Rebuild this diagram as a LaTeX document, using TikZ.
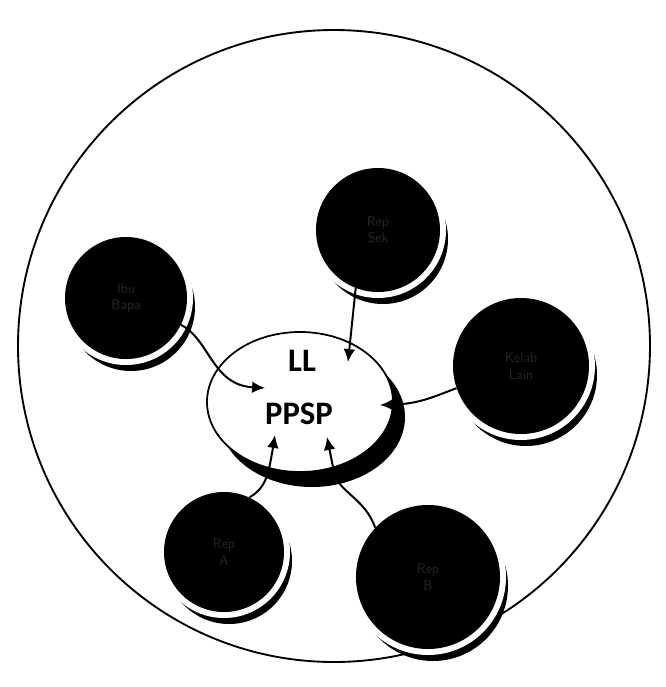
\documentclass[tikz,border=0pt]{standalone}
\usepackage{fontspec}
\newfontfamily\calfont{Carlito}
\usetikzlibrary{calc, arrows.meta, shapes.geometric}

\tikzset{
  blob/.style={circle, fill=black, inner sep=0pt, minimum size=#1,
    font=\sffamily\large, text=black!85, align=center},
  link/.style={line width=1.7pt, -{Latex[length=11pt, width=10pt]}},
  word/.style={font=\calfont\bfseries\fontsize{28}{30}\selectfont, inner sep=0pt},
}

\begin{document}
\begin{tikzpicture}[x=0.03cm, y=-0.03cm]
  \useasboundingbox (0,0) rectangle (666,687);
  % outer ring
  \draw[line width=1.6pt] (334,346) circle (316);

  % shadows of the dark circles
  \foreach \cx/\cy/\r in {126/298/61, 378/230/62, 521/366/68, 224/552/60, 428/577/72} {
      \fill[black] (\cx+5,\cy+9) circle (\r+3);
      \fill[white] (\cx,\cy) circle (\r+6);
  }

  % dark circles
  \node[blob=3.66cm] (lf) at (126,298) {Ibu\\Bapa};
  \node[blob=3.72cm] (tp) at (378,230) {Rep\\Sek};
  \node[blob=4.08cm] (rt) at (521,366) {Kelab\\Lain};
  \node[blob=3.60cm] (bl) at (224,552) {Rep\\A};
  \node[blob=4.32cm] (br) at (428,577) {Rep\\B};

  % centre
  \fill[black] (312,417) ellipse [x radius=93, y radius=70];
  \node[ellipse, draw, line width=1.5pt, fill=white, minimum width=5.58cm, minimum height=4.2cm] (core) at (300,402) {};
  \node[word] (ll) at (302,361) {LL};
  \node[word] (ppsp) at (299,414) {PPSP};

  \coordinate (tipL) at (265,388);
  \coordinate (tipT) at (348,362);
  \coordinate (tipR) at (380,405);
  \coordinate (tipBL) at (275,435);
  \coordinate (tipBR) at (327,437);

  % links
  \draw[link] (lf.-26) .. controls (210,340) and (212,385) .. (tipL);
  \draw[link] (tp.-111) -- (tipT);
  \draw[link] (rt.-161) .. controls (435,396) and (420,404) .. (tipR);
  \draw[link] (bl.65) .. controls (265,488) and (268,478) .. (tipBL);
  \draw[link] (br.137) .. controls (365,498) and (338,492) .. (334,472) -- (tipBR);
\end{tikzpicture}
\end{document}
